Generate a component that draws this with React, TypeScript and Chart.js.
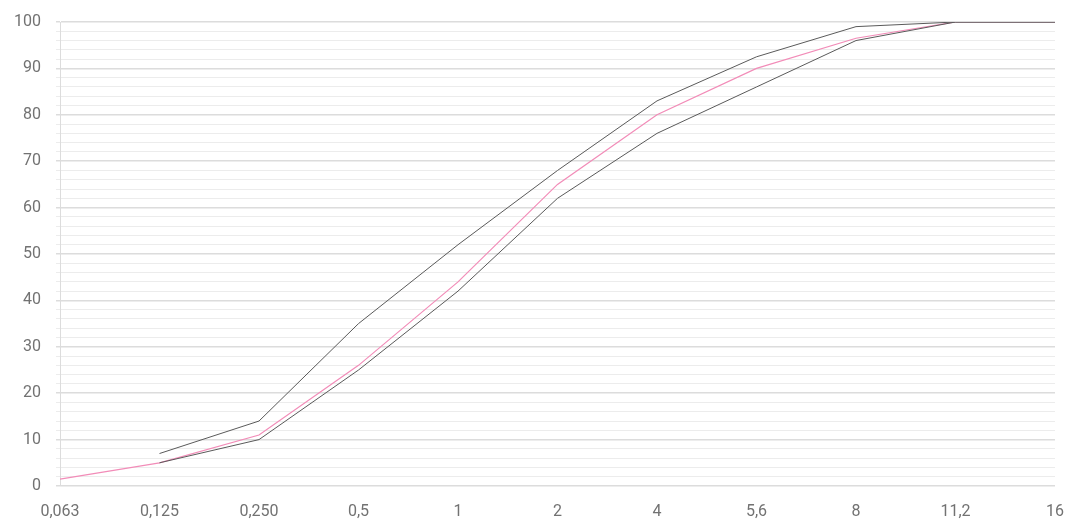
import React, { useEffect, useRef } from "react";
import { Chart, registerables } from "chart.js";

Chart.register(...registerables);

const categories = ["0,063", "0,125", "0,250", "0,5", "1", "2", "4", "5,6", "8", "11,2", "16"];
const upperLimit = [null, 7, 14, 35, 52, 68, 83, 92.5, 99, 100, 100];
const lowerLimit = [null, 5, 10, 25, 42, 62, 76, 86, 96, 100, 100];
const sample = [1.5, 5, 11, 26, 44, 65, 80, 90, 96.5, 100, 100];

export default function App() {
  const ref = useRef<HTMLCanvasElement>(null);
  useEffect(() => {
    if (!ref.current) return;
    const chart = new Chart(ref.current, {
      type: "line",
      data: {
        labels: categories,
        datasets: [
          { label: "Upper", data: upperLimit, borderColor: "#5a5a5a", borderWidth: 1, pointRadius: 0, tension: 0 },
          { label: "Lower", data: lowerLimit, borderColor: "#5a5a5a", borderWidth: 1, pointRadius: 0, tension: 0 },
          { label: "Sample", data: sample, borderColor: "#f28cb8", borderWidth: 1.2, pointRadius: 0, tension: 0 },
        ],
      },
      options: {
        animation: false,
        responsive: true,
        maintainAspectRatio: false,
        layout: { padding: { top: 22, right: 13, left: 0, bottom: 0 } },
        plugins: { legend: { display: false }, tooltip: { enabled: false } },
        scales: {
          x: {
            offset: false,
            grid: { display: false },
            border: { display: false },
            ticks: { color: "#727272", font: { family: "Roboto", size: 16 }, padding: 8, maxRotation: 0, autoSkip: false },
            afterFit: (s: any) => { s.height = 33; s.paddingLeft = 0; s.paddingRight = 0; },
          },
          y: {
            min: 0,
            max: 100,
            ticks: {
              stepSize: 2,
              autoSkip: false,
              color: "#727272",
              font: { family: "Roboto", size: 16 },
              padding: 15,
              callback: (v: any) => (Number(v) % 10 === 0 ? String(v) : ""),
            },
            grid: {
              color: (ctx: any) => (ctx.tick && ctx.tick.value % 10 === 0 ? "#dcdcdc" : "#ececec"),
              lineWidth: (ctx: any) => (ctx.tick && ctx.tick.value % 10 === 0 ? 1.5 : 1),
              tickLength: 4,
            },
            border: { display: true, color: "#dcdcdc" },
            afterFit: (s: any) => { s.width = 60; s.paddingTop = 0; s.paddingBottom = 0; },
          },
        },
      },
    });
    return () => chart.destroy();
  }, []);
  return (
    <div style={{ position: "absolute", left: 0, top: 0, width: 1068, height: 519, background: "#fff" }}>
      <canvas ref={ref} />
    </div>
  );
}
